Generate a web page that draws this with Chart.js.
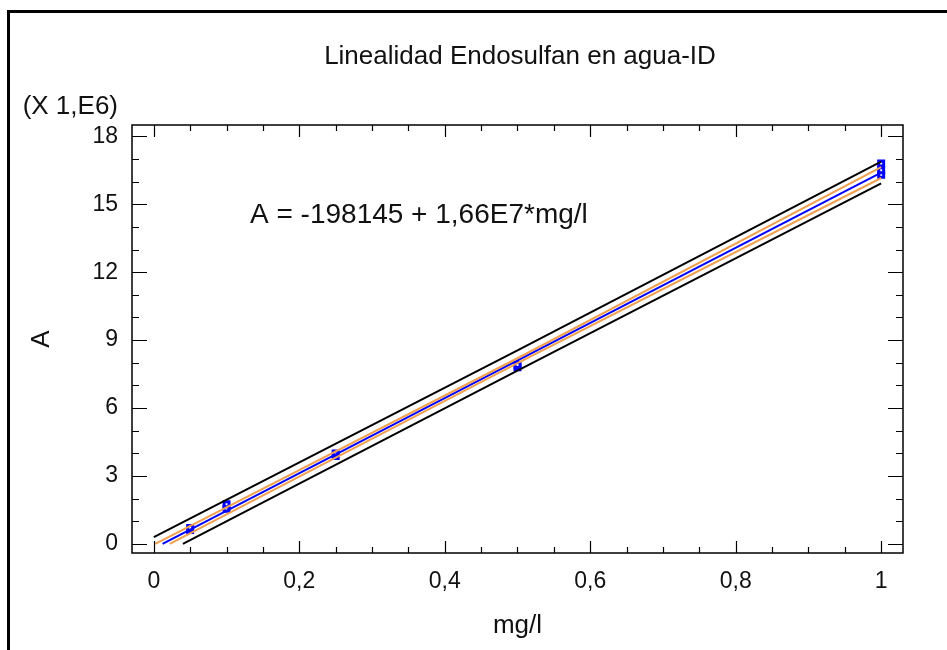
<!DOCTYPE html>
<html>
<head>
<meta charset="utf-8">
<script src="https://cdn.jsdelivr.net/npm/chart.js@4"></script>
<style>
  html, body { margin: 0; padding: 0; background: #fff; }
  #wrap { width: 947px; height: 650px; }
</style>
</head>
<body>
<div id="wrap"><canvas id="chart" width="947" height="650"></canvas></div>
<script>
// values in units of 1E6
const concX = [0.05, 0.05, 0.1, 0.1, 0.25, 0.25, 0.5, 0.5, 1, 1, 1];
const areaY = [0.62, 0.70, 1.55, 1.75, 3.88, 4.0, 7.8, 7.9, 16.3, 16.5, 16.8];

// fitted line and limits (clipped at y = 0)
const fitX = [0.012, 1];
const fitY = [0, 16.40];
const confUpX = [0.002, 0.5, 1];
const confUpY = [0, 8.20, 16.64];
const confLoX = [0.022, 0.5, 1];
const confLoY = [0, 7.98, 16.16];
const predUpX = [0, 0.5, 1];
const predUpY = [0.30, 8.55, 16.88];
const predLoX = [0.04, 0.5, 1];
const predLoY = [0, 7.65, 15.92];

const xTicks = [0, 0.2, 0.4, 0.6, 0.8, 1];
const yTicks = [0, 3, 6, 9, 12, 15, 18];

const FONT = 'Liberation Sans, Arial, sans-serif';

const pts = (xs, ys) => xs.map((x, i) => ({ x, y: ys[i] }));

function lineSet(xs, ys, color) {
  return {
    data: pts(xs, ys),
    showLine: true,
    borderColor: color,
    borderWidth: 2,
    pointRadius: 0,
    fill: false
  };
}

const framePlugin = {
  id: 'frame',
  afterDraw(chart) {
    const { ctx, chartArea: a, scales: { x, y } } = chart;
    ctx.save();
    ctx.strokeStyle = '#000';
    ctx.lineWidth = 1.5;
    ctx.strokeRect(a.left, a.top, a.right - a.left, a.bottom - a.top);

    ctx.lineWidth = 1.2;
    ctx.beginPath();
    for (let v = 0; v <= 1.0001; v += 0.05) {
      const px = Math.round(x.getPixelForValue(v)) + 0.5;
      const major = Math.abs(v / 0.2 - Math.round(v / 0.2)) < 1e-6;
      const len = major ? 12 : 6;
      ctx.moveTo(px, a.bottom); ctx.lineTo(px, a.bottom - len);
      ctx.moveTo(px, a.top); ctx.lineTo(px, a.top + len);
    }
    for (let v = 0; v <= 18; v += 1) {
      const py = Math.round(y.getPixelForValue(v)) + 0.5;
      const len = v % 3 === 0 ? 15 : 7;
      ctx.moveTo(a.left, py); ctx.lineTo(a.left + len, py);
      ctx.moveTo(a.right, py); ctx.lineTo(a.right - len, py);
    }
    ctx.stroke();

    // outer frame (top and left edges)
    ctx.lineWidth = 3;
    ctx.beginPath();
    ctx.moveTo(8.5, 650); ctx.lineTo(8.5, 11.5); ctx.lineTo(947, 11.5);
    ctx.stroke();

    ctx.fillStyle = '#111';
    ctx.textBaseline = 'middle';
    ctx.textAlign = 'center';
    ctx.font = '26px ' + FONT;
    ctx.fillText('Linealidad Endosulfan en agua-ID', 520, 57);
    ctx.textAlign = 'right';
    ctx.font = '26px ' + FONT;
    ctx.fillText('(X 1,E6)', 118, 107);
    ctx.textAlign = 'left';
    ctx.font = '28px ' + FONT;
    ctx.fillText('A = -198145 + 1,66E7*mg/l', 250, 215);
    ctx.restore();
  }
};

new Chart(document.getElementById('chart'), {
  type: 'scatter',
  data: {
    datasets: [
      lineSet(predUpX, predUpY, '#000000'),
      lineSet(predLoX, predLoY, '#000000'),
      lineSet(confUpX, confUpY, '#f0a050'),
      lineSet(confLoX, confLoY, '#f0a050'),
      lineSet(fitX, fitY, '#0000ff'),
      {
        data: pts(concX, areaY),
        pointStyle: 'rect',
        pointRadius: 3.5,
        borderWidth: 3,
        borderColor: '#0000ff',
        backgroundColor: '#ffffff'
      }
    ]
  },
  options: {
    responsive: false,
    animation: false,
    layout: { padding: { left: 0, right: 44, top: 125, bottom: 0 } },
    plugins: {
      legend: { display: false },
      tooltip: { enabled: false },
      title: { display: false }
    },
    scales: {
      x: {
        type: 'linear',
        min: -0.03,
        max: 1.03,
        afterBuildTicks: axis => { axis.ticks = xTicks.map(v => ({ value: v })); },
        afterFit: axis => { axis.height = 97; },
        grid: { display: false, drawTicks: false },
        border: { display: false },
        ticks: {
          color: '#111',
          padding: 15,
          font: { family: FONT, size: 23 },
          callback: v => String(v).replace('.', ',')
        },
        title: {
          display: true,
          text: 'mg/l',
          color: '#111',
          font: { family: FONT, size: 26 },
          padding: { top: 4, bottom: 9 }
        }
      },
      y: {
        type: 'linear',
        min: -0.4,
        max: 18.5,
        afterBuildTicks: axis => { axis.ticks = yTicks.map(v => ({ value: v })); },
        afterFit: axis => { axis.width = 132; },
        grid: { display: false, drawTicks: false },
        border: { display: false },
        ticks: {
          color: '#111',
          padding: 14,
          font: { family: FONT, size: 23 }
        },
        title: {
          display: true,
          text: 'A',
          color: '#111',
          font: { family: FONT, size: 26 },
          padding: { top: 26, bottom: 4 }
        }
      }
    }
  },
  plugins: [framePlugin]
});
</script>
</body>
</html>
